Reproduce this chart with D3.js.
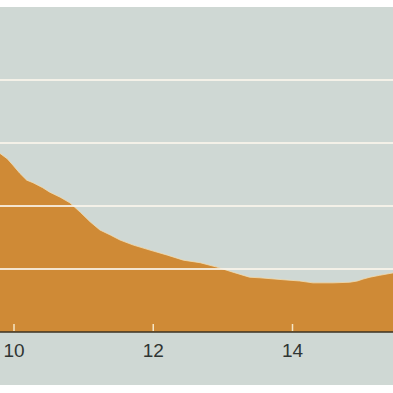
<!DOCTYPE html>
<html><head><meta charset="utf-8">
<script src="https://cdn.jsdelivr.net/npm/d3@7"></script>
<style>html,body{margin:0;padding:0;background:#fff;}svg{display:block;}</style>
</head><body>
<script>
const xVals = [9.80,9.91,9.99,10.09,10.19,10.28,10.42,10.52,10.67,10.81,10.96,11.10,11.24,11.39,11.53,11.72,11.96,12.21,12.44,12.68,12.92,13.15,13.39,13.54,13.87,14.11,14.30,14.59,14.83,14.94,15.02,15.12,15.26,15.46];
const yVals = [2.84,2.75,2.65,2.52,2.41,2.37,2.29,2.22,2.14,2.05,1.90,1.75,1.62,1.54,1.46,1.38,1.30,1.22,1.14,1.10,1.03,0.95,0.87,0.86,0.83,0.81,0.78,0.78,0.79,0.81,0.84,0.87,0.90,0.94];
const xTicks = [10, 12, 14];
const yGrid = [1, 2, 3, 4];

const W = 393, H = 393;
const data = xVals.map((x, i) => ({x, y: yVals[i]}));
const svg = d3.select("body").append("svg").attr("width", W).attr("height", H);

svg.append("rect").attr("x", 0).attr("y", 7).attr("width", W).attr("height", 378).attr("fill", "#cfd8d4");

const x = d3.scaleLinear().domain([10, 14]).range([13.5, 292]);
const y = d3.scaleLinear().domain([0, 4]).range([332, 80]);

const area = d3.area().x(d => x(d.x)).y0(y(0)).y1(d => y(d.y));
const line = d3.line().x(d => x(d.x)).y(d => y(d.y));

svg.append("path").datum(data).attr("d", area).attr("fill", "#cf8a36");
svg.append("path").datum(data).attr("d", line).attr("fill", "none").attr("stroke", "#f1dcb0").attr("stroke-width", 1).attr("opacity", 0.8);

svg.selectAll("line.grid").data(yGrid).enter().append("line")
  .attr("class", "grid").attr("x1", 0).attr("x2", W)
  .attr("y1", d => y(d)).attr("y2", d => y(d))
  .attr("stroke", "#fbf6ec").attr("stroke-width", 2).attr("opacity", 0.85);

const axis = d3.axisBottom(x).tickValues(xTicks).tickSize(-8).tickSizeOuter(0).tickFormat(d3.format("d"));
const g = svg.append("g").attr("transform", `translate(0,${y(0)})`).call(axis);
g.select(".domain").attr("stroke", "#3b3222").attr("stroke-width", 1.6).attr("d", `M0,0H${W}`);
g.selectAll(".tick line").attr("stroke", "#f6e6c6").attr("stroke-width", 1.5).attr("y1", -1);
g.selectAll(".tick text").attr("y", 12).attr("dy", "0.71em")
  .attr("fill", "#2f3533").attr("font-family", "Liberation Sans, Arial, sans-serif").attr("font-size", 19);
</script>
</body></html>
